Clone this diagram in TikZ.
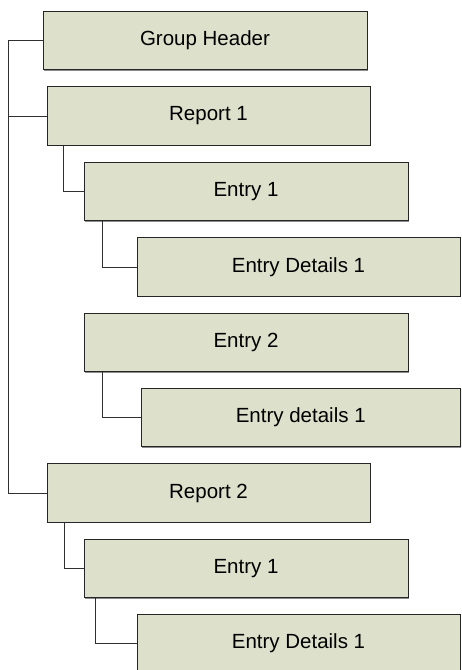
\documentclass[tikz,border=0pt]{standalone}
\usepackage{fontspec}
\setmainfont{Liberation Sans}
\usetikzlibrary{shadows}
\definecolor{boxfill}{HTML}{DDE0CA}
\definecolor{linecol}{HTML}{303030}
\tikzset{
  box/.style={draw=black!85, line width=0.9pt, fill=boxfill, inner sep=0pt,
    minimum height=58.5pt, font=\fontsize{20.5}{24}\selectfont,
    drop shadow={shadow xshift=1.2pt, shadow yshift=-1.2pt, fill=black!45, opacity=1}},
  conn/.style={draw=linecol, line width=1pt}
}
\begin{document}
\begin{tikzpicture}[x=1pt,y=-1pt]
\useasboundingbox (0,0) rectangle (461,670);
\clip (0,0) rectangle (461,670);
\node[box, minimum width=324pt] (g)   at (205,40.5)   {Group Header};
\node[box, minimum width=323pt] (r1)  at (208.5,116)  {Report 1};
\node[box, minimum width=324pt] (e1)  at (246,191.5)  {Entry 1};
\node[box, minimum width=323pt] (d1)  at (298.5,267)  {Entry Details 1};
\node[box, minimum width=324pt] (e2)  at (246,342.5)  {Entry 2};
\node[box, minimum width=319.5pt] (d2) at (300.75,417.5) {Entry details 1};
\node[box, minimum width=323pt] (r2)  at (208.5,493)  {Report 2};
\node[box, minimum width=324pt] (e3)  at (246,568.5)  {Entry 1};
\node[box, minimum width=323pt] (d3)  at (298.5,643.5) {Entry Details 1};
% trunk
\coordinate (trunk) at ([xshift=-34pt]g.west);
\draw[conn] (g.west) -- (trunk) |- (r2.west);
\draw[conn] (trunk) |- (r1.west);
% branches
\draw[conn] ([xshift=17pt]r1.south west) |- (e1.west);
\draw[conn] ([xshift=19pt]e1.south west) |- (d1.west);
\draw[conn] ([xshift=19pt]e2.south west) |- (d2.west);
\draw[conn] ([xshift=18pt]r2.south west) |- (e3.west);
\draw[conn] ([xshift=12pt]e3.south west) |- (d3.west);
\end{tikzpicture}
\end{document}
